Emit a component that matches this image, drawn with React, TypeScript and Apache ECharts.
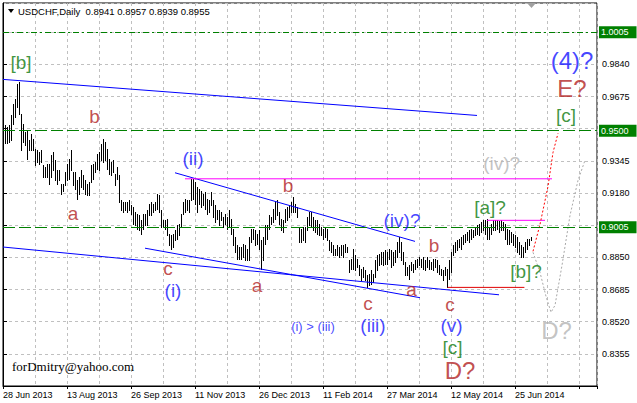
import React, { useEffect, useRef } from 'react';
import * as echarts from 'echarts';

// ---------- data ----------
const symbolName = 'USDCHF,Daily';
const lastOHLC = [0.8941, 0.8957, 0.8939, 0.8955];
const xTickLabels = ['28 Jun 2013', '13 Aug 2013', '26 Sep 2013', '11 Nov 2013', '26 Dec 2013', '11 Feb 2014', '27 Mar 2014', '12 May 2014', '25 Jun 2014'];
const barsPerLabel = 32;

const barHigh = [
  0.9527, 0.9518, 0.9527, 0.9578, 0.9638, 0.9664, 0.9737, 0.9749, 0.9587, 0.9536,
  0.9493, 0.9501, 0.9450, 0.9484, 0.9459, 0.9407, 0.9399, 0.9390, 0.9399, 0.9322,
  0.9313, 0.9330, 0.9330, 0.9373, 0.9390, 0.9347, 0.9296, 0.9296, 0.9228, 0.9228,
  0.9287, 0.9330, 0.9356, 0.9399, 0.9287, 0.9287, 0.9245, 0.9262, 0.9296, 0.9271,
  0.9245, 0.9228, 0.9236, 0.9322,
  0.9330, 0.9339, 0.9382, 0.9390, 0.9433, 0.9459, 0.9441, 0.9407, 0.9356, 0.9339,
  0.9347, 0.9279, 0.9313, 0.9271, 0.9142, 0.9133, 0.9133, 0.9133, 0.9142, 0.9117,
  0.9108, 0.9082, 0.9074, 0.9065, 0.9040, 0.9074, 0.9074, 0.9091, 0.9125, 0.9133,
  0.9125, 0.9133, 0.9177, 0.9168, 0.9091, 0.9040, 0.9040, 0.9048, 0.8971, 0.8963,
  0.8971, 0.8988, 0.9014, 0.9023, 0.9074,
  0.9133, 0.9151, 0.9142, 0.9142, 0.9253, 0.9253, 0.9236, 0.9210, 0.9202, 0.9193,
  0.9177, 0.9185, 0.9151, 0.9142, 0.9185, 0.9142, 0.9117, 0.9091, 0.9091, 0.9082,
  0.9056, 0.9074, 0.9056, 0.9091, 0.9048, 0.8997, 0.8954, 0.8911, 0.8903, 0.8903,
  0.8920, 0.8911, 0.8894, 0.8954, 0.8997, 0.8997, 0.8988, 0.8971, 0.8988, 0.8937,
  0.8954, 0.9014, 0.9014, 0.9065, 0.9056,
  0.9100, 0.9133, 0.9142, 0.9082, 0.9048, 0.9040, 0.9100, 0.9108, 0.9117, 0.9133,
  0.9159, 0.9125, 0.9108, 0.9005, 0.8997, 0.9005, 0.9005, 0.9056, 0.9082, 0.9082,
  0.9056, 0.9040, 0.9040, 0.9023, 0.9005, 0.8997, 0.9005, 0.8997, 0.8937, 0.8928,
  0.8911, 0.8894, 0.8911, 0.8903, 0.8911, 0.8911, 0.8920, 0.8903, 0.8834, 0.8843,
  0.8894, 0.8860, 0.8843, 0.8809, 0.8792,
  0.8800, 0.8783, 0.8757, 0.8766, 0.8783, 0.8766, 0.8834, 0.8860, 0.8869, 0.8877,
  0.8877, 0.8886, 0.8877, 0.8894, 0.8886, 0.8877, 0.8886, 0.8928, 0.8954, 0.8928,
  0.8877, 0.8826, 0.8800, 0.8809, 0.8826, 0.8817, 0.8834, 0.8843, 0.8851, 0.8843,
  0.8851, 0.8834, 0.8851, 0.8834, 0.8826, 0.8843, 0.8843, 0.8834, 0.8809, 0.8792,
  0.8783, 0.8800, 0.8792, 0.8834, 0.8877,
  0.8911, 0.8928, 0.8937, 0.8946, 0.8954, 0.8963, 0.8971, 0.8980, 0.8988, 0.8997,
  0.8988, 0.9005, 0.9014, 0.9023, 0.9031, 0.9040, 0.9040, 0.9046, 0.9005, 0.9023,
  0.9040, 0.9042, 0.9040, 0.9038, 0.9040, 0.9031, 0.9023, 0.8997, 0.8988, 0.8980,
  0.8971, 0.8963, 0.8954, 0.8928, 0.8911, 0.8903, 0.8928, 0.8946, 0.8946, 0.8957,
];

const barLow = [
  0.9436, 0.9436, 0.9441, 0.9450, 0.9536, 0.9569, 0.9621, 0.9587, 0.9399, 0.9441,
  0.9424, 0.9356, 0.9399, 0.9399, 0.9399, 0.9322, 0.9339, 0.9330, 0.9339, 0.9262,
  0.9262, 0.9262, 0.9228, 0.9262, 0.9296, 0.9245, 0.9228, 0.9245, 0.9177, 0.9193,
  0.9219, 0.9245, 0.9253, 0.9296, 0.9219, 0.9202, 0.9151, 0.9177, 0.9210, 0.9202,
  0.9177, 0.9168, 0.9168, 0.9236,
  0.9253, 0.9287, 0.9305, 0.9296, 0.9347, 0.9339, 0.9347, 0.9305, 0.9279, 0.9271,
  0.9287, 0.9219, 0.9253, 0.9133, 0.9091, 0.9082, 0.9091, 0.9082, 0.9091, 0.9074,
  0.9023, 0.9014, 0.8997, 0.8988, 0.8971, 0.8997, 0.9014, 0.9014, 0.9065, 0.9065,
  0.9082, 0.9091, 0.9100, 0.9082, 0.9005, 0.9005, 0.8997, 0.8963, 0.8911, 0.8894,
  0.8903, 0.8937, 0.8946, 0.8963, 0.9005,
  0.9074, 0.9082, 0.9091, 0.9082, 0.9142, 0.9151, 0.9125, 0.9082, 0.9125, 0.9108,
  0.9117, 0.9100, 0.9074, 0.9082, 0.9117, 0.9056, 0.9031, 0.9048, 0.9014, 0.9040,
  0.9005, 0.9023, 0.8997, 0.9005, 0.8971, 0.8911, 0.8877, 0.8843, 0.8843, 0.8843,
  0.8851, 0.8834, 0.8834, 0.8834, 0.8928, 0.8946, 0.8911, 0.8920, 0.8894, 0.8792,
  0.8834, 0.8920, 0.8946, 0.8997, 0.9023,
  0.9031, 0.9048, 0.9065, 0.9023, 0.8988, 0.8980, 0.9031, 0.9040, 0.9056, 0.9082,
  0.9082, 0.9082, 0.9056, 0.8928, 0.8928, 0.8937, 0.8928, 0.8988, 0.9014, 0.9005,
  0.8988, 0.8980, 0.8971, 0.8963, 0.8963, 0.8946, 0.8954, 0.8937, 0.8886, 0.8877,
  0.8860, 0.8860, 0.8860, 0.8851, 0.8860, 0.8851, 0.8877, 0.8877, 0.8774, 0.8792,
  0.8792, 0.8783, 0.8800, 0.8757, 0.8732,
  0.8749, 0.8732, 0.8697, 0.8706, 0.8715, 0.8723, 0.8749, 0.8783, 0.8809, 0.8817,
  0.8809, 0.8817, 0.8817, 0.8843, 0.8800, 0.8809, 0.8826, 0.8851, 0.8877, 0.8834,
  0.8817, 0.8757, 0.8757, 0.8740, 0.8783, 0.8774, 0.8792, 0.8800, 0.8809, 0.8800,
  0.8792, 0.8783, 0.8800, 0.8792, 0.8792, 0.8783, 0.8800, 0.8774, 0.8766, 0.8757,
  0.8732, 0.8757, 0.8696, 0.8740, 0.8774,
  0.8860, 0.8877, 0.8886, 0.8903, 0.8894, 0.8920, 0.8928, 0.8937, 0.8928, 0.8946,
  0.8954, 0.8963, 0.8971, 0.8963, 0.8980, 0.8988, 0.8971, 0.8946, 0.8946, 0.8971,
  0.8988, 0.8988, 0.8997, 0.8980, 0.8988, 0.8988, 0.8946, 0.8920, 0.8920, 0.8928,
  0.8911, 0.8903, 0.8877, 0.8869, 0.8851, 0.8851, 0.8877, 0.8894, 0.8911, 0.8939,
];

// horizontal levels (green dashed) shown with highlighted price labels
const levelPrices = [1.0005, 0.95, 0.9005];

// trend lines: [barIndex, price] pairs
const blueLines: number[][][] = [
  [[-1, 0.9763], [236, 0.9578]],
  [[-1, 0.8903], [247, 0.8658]],
  [[70, 0.8897], [207.5, 0.8643]],
  [[85, 0.9284], [205, 0.8932]],
];
const magentaLines: number[][][] = [
  [[90, 0.9253], [273.5, 0.9253]],
  [[241, 0.9040], [270, 0.9040]],
];
const redLine: number[][] = [[221.3, 0.8696], [259.7, 0.8696]];
const redProjection: number[][] = [[264, 0.8881], [267.5, 0.9019], [271.5, 0.9214], [274, 0.9388], [276.5, 0.9486]];
const grayProjection: number[][] = [[264, 0.8876], [267.5, 0.8773], [270.5, 0.8650], [273, 0.8568], [275, 0.8604], [278.5, 0.8809], [282.5, 0.9065], [286.5, 0.9245], [290, 0.9348]];

// wave labels: [text, barIndex, price, fontSize]
const brownLabels: [string, number, number, number][] = [
  ['b', 44.8, 0.9573, 19], ['a', 34, 0.9075, 19], ['c', 81.5, 0.8793, 19], ['b', 141.5, 0.9219, 19],
  ['a', 126, 0.8706, 19], ['b', 214.5, 0.8911, 19], ['c', 181.5, 0.8614, 19], ['a', 203.3, 0.8686, 19],
  ['c', 222.5, 0.8609, 19], ['D?', 227.5, 0.8270, 24], ['E?', 283.5, 0.9717, 24],
];
const blueLabels: [string, number, number, number][] = [
  ['(ii)', 94, 0.9358, 19], ['(i)', 84, 0.8680, 19], ['(iv)?', 198.5, 0.9040, 19], ['(iii)', 184, 0.8501, 19],
  ['(v)', 223.3, 0.8501, 19], ['(4)?', 283.5, 0.9860, 24], ['(i) > (iii)', 154, 0.8493, 13],
];
const greenLabels: [string, number, number, number][] = [
  ['[b]', 8, 0.9850, 19], ['[a]?', 242.5, 0.9106, 19], ['[b]?', 260.5, 0.8778, 19],
  ['[c]', 223.8, 0.8388, 19], ['[c]', 280.5, 0.9578, 19],
];
const grayLabels: [string, number, number, number][] = [
  ['(iv)?', 248.3, 0.9332, 19], ['D?', 275.8, 0.8475, 24],
];
const watermark = 'forDmitry@yahoo.com';

// ---------- helpers ----------
const X_SLOTS = 297;
const toX = (i: number) => i + 1;
const toY = (p: number) => p * 10000 - 105;
const fromY = (v: number) => (v + 105) / 10000;
const Y_MIN = 8085;
const Y_MAX = 10050;
const FONT = '"Liberation Sans", Arial, sans-serif';

function lineSeries(pts: number[][], color: string, type: any = 'solid') {
  return {
    type: 'line',
    data: pts.map((p) => [toX(p[0]), toY(p[1])]),
    symbol: 'none',
    silent: true,
    z: 3,
    lineStyle: { color, width: 1, type },
  };
}

function labelSeries(items: [string, number, number, number][], color: string) {
  return {
    type: 'scatter',
    silent: true,
    z: 6,
    symbolSize: 1,
    itemStyle: { color: 'rgba(0,0,0,0)' },
    data: items.map(([t, i, p, s]) => ({
      value: [toX(i), toY(p)],
      label: { show: true, position: 'inside', formatter: t, color, fontSize: s, fontFamily: FONT },
    })),
  };
}

export default function App() {
  const ref = useRef<HTMLDivElement>(null);
  useEffect(() => {
    if (!ref.current) return;
    const chart = echarts.init(ref.current, null, { renderer: 'svg' });
    const barData = barHigh.map((h, i) => [toX(i), toY(h), toY(barLow[i])]);
    const option: any = {
      animation: false,
      backgroundColor: '#fff',
      textStyle: { fontFamily: FONT },
      grid: { left: 3, right: 40, top: 3, bottom: 17, show: true, borderColor: '#000', borderWidth: 1, backgroundColor: '#fff' },
      xAxis: [
        {
          type: 'value', min: 0, max: X_SLOTS, interval: 16,
          axisLine: { show: true, lineStyle: { color: '#000' } },
          axisTick: { show: false },
          splitLine: { show: true, lineStyle: { color: '#c0c0c0', type: [3, 3], width: 1 } },
          axisLabel: {
            show: true, color: '#000', fontSize: 9, fontFamily: FONT, align: 'left', margin: 4,
            formatter: (v: number) => {
              if (v % barsPerLabel !== 0) return '';
              const k = v / barsPerLabel;
              return k < xTickLabels.length ? xTickLabels[k] : '';
            },
          },
        },
        {
          type: 'value', min: 0, max: X_SLOTS, interval: barsPerLabel, position: 'bottom',
          axisLine: { show: false }, axisLabel: { show: false }, splitLine: { show: false },
          axisTick: { show: true, length: 3, lineStyle: { color: '#000' } },
        },
      ],
      yAxis: {
        type: 'value', position: 'right', min: Y_MIN, max: Y_MAX, interval: 165,
        axisLine: { show: true, lineStyle: { color: '#000' } },
        axisTick: { show: true, length: 4, lineStyle: { color: '#000' } },
        splitLine: { show: true, lineStyle: { color: '#c0c0c0', type: [3, 3], width: 1 } },
        axisLabel: {
          color: '#000', fontSize: 9, fontFamily: FONT, margin: 5, showMinLabel: false, showMaxLabel: false,
          formatter: (v: number) => {
            const p = fromY(v);
            // a highlighted level label covers the regular tick label next to it
            if (levelPrices.some((l) => Math.abs(l - p) < 0.0012)) return '';
            return p.toFixed(4);
          },
        },
      },
      series: [
        {
          type: 'custom',
          z: 2,
          silent: true,
          data: barData,
          encode: { x: 0, y: [1, 2] },
          renderItem: (params: any, api: any) => {
            const x = api.value(0);
            const a = api.coord([x, api.value(1)]);
            const b = api.coord([x, api.value(2)]);
            const cx = Math.round(a[0]) + 0.5;
            return {
              type: 'line',
              shape: { x1: cx, y1: Math.round(a[1]), x2: cx, y2: Math.round(b[1]) + 1 },
              style: { stroke: '#000', lineWidth: 1 },
            };
          },
          markLine: {
            silent: true,
            symbol: ['none', 'none'],
            animation: false,
            data: levelPrices.map((p, k) => ({
              yAxis: toY(p),
              lineStyle: { color: '#008000', width: 1, type: k === 0 ? [6, 3, 2, 3] : [12, 4] },
              label: {
                show: true, position: 'end', distance: 2, formatter: p.toFixed(4),
                color: '#fff', backgroundColor: '#008000', fontSize: 9, fontFamily: FONT,
                padding: [1, 8, 1, 2], lineHeight: 10,
              },
            })),
          },
        },
        ...blueLines.map((l) => lineSeries(l, '#0000ff')),
        ...magentaLines.map((l) => lineSeries(l, '#ff00ff')),
        lineSeries(redLine, '#e00000'),
        lineSeries(redProjection, '#ff0000', [2, 2]),
        lineSeries(grayProjection, '#a8a8a8', [2, 2]),
        labelSeries(brownLabels, '#b22222'),
        labelSeries(blueLabels, '#1414ff'),
        labelSeries(greenLabels, '#0d7a0d'),
        labelSeries(grayLabels, '#b4b4b4'),
      ],
      graphic: [
        { type: 'polygon', shape: { points: [[8, 9], [14, 9], [11, 13]] }, style: { fill: '#000' }, z: 10 },
        {
          type: 'text', left: 18, top: 6, z: 10,
          style: { text: `${symbolName}  ${lastOHLC.map((v) => v.toFixed(4)).join(' ')}`, fill: '#000', font: `9.5px ${FONT}` },
        },
        { type: 'polygon', shape: { points: [[527, 3], [536, 3], [531.5, 8]] }, style: { fill: '#a0a0a0' }, z: 10 },
        {
          type: 'text', left: 12, top: 360, z: 10,
          style: { text: watermark, fill: '#000', font: '13px "Liberation Serif", "Times New Roman", serif' },
        },
      ],
    };
    chart.setOption(option);
    return () => chart.dispose();
  }, []);
  return <div ref={ref} style={{ position: 'fixed', left: 0, top: 0, width: 637, height: 403, background: '#fff' }} />;
}
